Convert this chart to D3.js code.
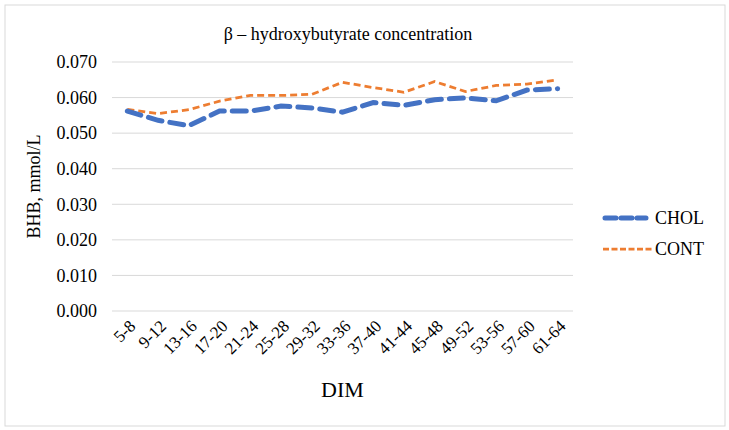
<!DOCTYPE html>
<html>
<head>
<meta charset="utf-8">
<script src="https://cdn.jsdelivr.net/npm/d3@7"></script>
<style>
  body { margin: 0; background: #fff; }
  text { font-family: "Liberation Serif", "Times New Roman", serif; fill: #000; }
</style>
</head>
<body>
<div class="chart"></div>
<script>
// data
const categories = ["5-8", "9-12", "13-16", "17-20", "21-24", "25-28", "29-32", "33-36",
  "37-40", "41-44", "45-48", "49-52", "53-56", "57-60", "61-64"];
const chol = [0.0562, 0.0536, 0.0521, 0.0562, 0.0562, 0.0576, 0.0571, 0.0559,
  0.0586, 0.0578, 0.0594, 0.0599, 0.0591, 0.0621, 0.0625];
const cont = [0.0567, 0.0555, 0.0566, 0.0590, 0.0606, 0.0606, 0.0609, 0.0643,
  0.0628, 0.0615, 0.0645, 0.0617, 0.0634, 0.0638, 0.0650];
const yTicks = [0, 0.01, 0.02, 0.03, 0.04, 0.05, 0.06, 0.07];

const W = 729, H = 430;
const margin = { top: 62, right: 156, bottom: 119, left: 112 };
const width = W - margin.left - margin.right,
    height = H - margin.top - margin.bottom;

const root = d3.select(".chart").append("svg")
    .attr("width", W)
    .attr("height", H);

// outer frame
root.append("rect")
    .attr("x", 5).attr("y", 5)
    .attr("width", 720).attr("height", 421)
    .attr("fill", "#fff")
    .attr("stroke", "#d9d9d9")
    .attr("stroke-width", 1);

const svg = root.append("g")
    .attr("transform", `translate(${margin.left}, ${margin.top})`);

const xScale = d3.scaleBand().domain(categories).range([0, width]);
const yScale = d3.scaleLinear().domain([0, 0.07]).range([height, 0]);

// gridlines
svg.append("g")
    .selectAll("line")
    .data(yTicks)
    .join("line")
    .attr("x1", 0).attr("x2", width)
    .attr("y1", d => yScale(d)).attr("y2", d => yScale(d))
    .attr("stroke", "#d9d9d9")
    .attr("stroke-width", 1);

// y axis
const yAxis = d3.axisLeft(yScale).tickValues(yTicks).tickFormat(d3.format(".3f")).tickSize(0).tickPadding(15);
svg.append("g").call(yAxis)
    .attr("font-family", null).attr("font-size", null)
    .call(g => g.select(".domain").remove())
    .selectAll("text")
    .style("font-size", "18px");

// x axis
const xAxis = d3.axisBottom(xScale).tickSize(0).tickPadding(0);
svg.append("g")
    .attr("transform", `translate(0, ${height})`)
    .call(xAxis)
    .attr("font-family", null).attr("font-size", null)
    .call(g => g.select(".domain").remove())
    .selectAll("text")
    .style("font-size", "17px")
    .attr("text-anchor", "end")
    .attr("y", 0)
    .attr("dy", "0.35em")
    .attr("transform", "translate(5, 12) rotate(-45)");

// lines
const line = d3.line()
    .x((d, i) => xScale(categories[i]) + xScale.bandwidth() / 2)
    .y(d => yScale(d));

svg.append("path")
    .datum(cont)
    .attr("fill", "none")
    .attr("stroke", "#ed7d31")
    .attr("stroke-width", 2.75)
    .attr("stroke-dasharray", "7 4")
    .attr("d", line);

svg.append("path")
    .datum(chol)
    .attr("fill", "none")
    .attr("stroke", "#4472c4")
    .attr("stroke-width", 5)
    .attr("stroke-dasharray", "14 8")
    .attr("stroke-linecap", "round")
    .attr("d", line);

// title
root.append("text")
    .attr("x", 348).attr("y", 40)
    .attr("text-anchor", "middle")
    .style("font-size", "18px")
    .text("β – hydroxybutyrate concentration");

// axis titles
root.append("text")
    .attr("transform", `translate(40, ${margin.top + height / 2}) rotate(-90)`)
    .attr("text-anchor", "middle")
    .style("font-size", "18px")
    .text("BHB, mmol/L");

root.append("text")
    .attr("x", margin.left + width / 2).attr("y", 397)
    .attr("text-anchor", "middle")
    .style("font-size", "22px")
    .text("DIM");

// legend
const legend = [
  { name: "CHOL", color: "#4472c4", w: 5, dash: "11 5", cap: "round", y: 218 },
  { name: "CONT", color: "#ed7d31", w: 2.75, dash: "6 2.5", cap: "butt", y: 249 }
];
const lg = root.append("g").selectAll("g").data(legend).join("g");
lg.append("line")
    .attr("x1", d => d.cap === "round" ? 605 : 603).attr("x2", d => d.cap === "round" ? 646 : 652)
    .attr("y1", d => d.y).attr("y2", d => d.y)
    .attr("stroke", d => d.color)
    .attr("stroke-width", d => d.w)
    .attr("stroke-dasharray", d => d.dash)
    .attr("stroke-linecap", d => d.cap);
lg.append("text")
    .attr("x", 655).attr("y", d => d.y)
    .attr("dy", "0.35em")
    .style("font-size", "18px")
    .text(d => d.name);
</script>
</body>
</html>
